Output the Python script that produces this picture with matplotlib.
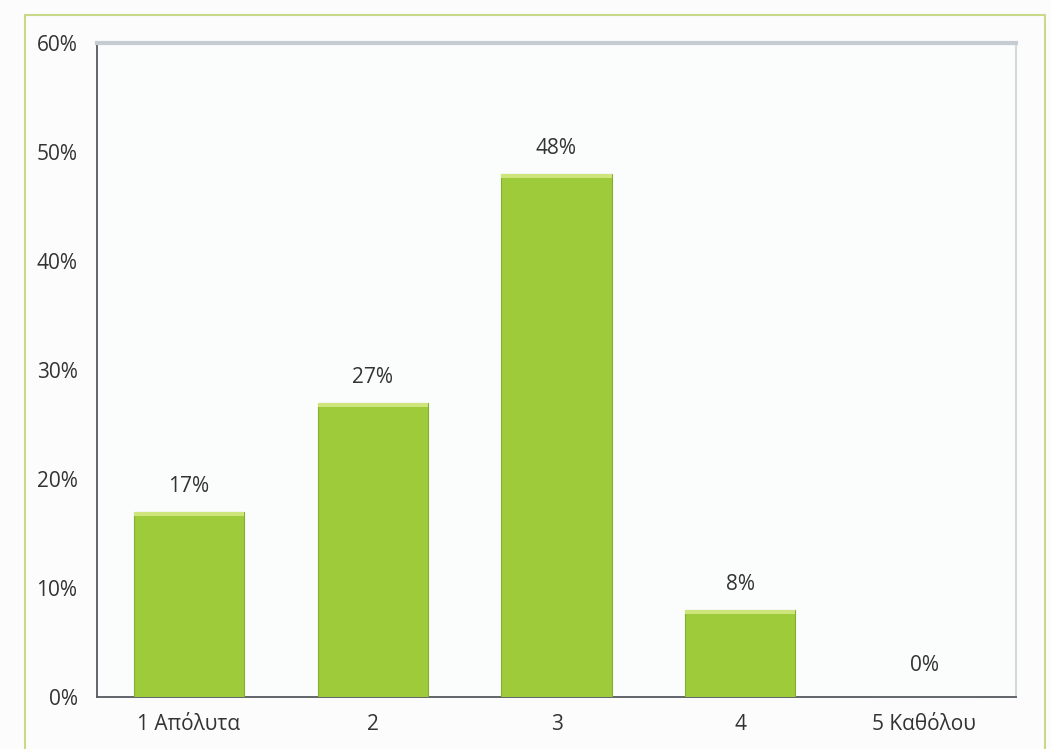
import matplotlib.pyplot as plt
import matplotlib as mpl
from matplotlib.patches import Rectangle
import numpy as np

mpl.rcParams['font.family'] = ['Open Sans', 'DejaVu Sans']

categories = ['1 Απόλυτα', '2', '3', '4', '5 Καθόλου']
values = [17, 27, 48, 8, 0]
yticks = [0, 10, 20, 30, 40, 50, 60]

fig = plt.figure(figsize=(10.51, 7.49), dpi=100)
fig.patch.set_facecolor('#fbfcfb')
# outer chart border
fig.patches.append(Rectangle((0.024, -0.01), 0.97, 0.99, transform=fig.transFigure,
                             fill=False, edgecolor='#c9d98a', linewidth=1.5))

ax = fig.add_axes([97 / 1051, 1 - 697 / 749, (1016 - 97) / 1051, (697 - 43) / 749])
ax.set_facecolor('#fbfcfc')
x = np.arange(len(categories))
bars = ax.bar(x, values, width=0.6, color='#9dcb3a', edgecolor='#86ad2e', linewidth=0.8, zorder=3)
# lighter top cap
for b, v in zip(bars, values):
    if v > 0:
        ax.add_patch(Rectangle((b.get_x(), v - 0.35), b.get_width(), 0.35,
                               facecolor='#cde57a', edgecolor='none', zorder=4))
    ax.text(b.get_x() + b.get_width() / 2, v + 2.3 if v > 0 else 2.9, f'{v}%',
            ha='center', va='center', fontsize=15, color='#333333', zorder=5)

ax.set_xlim(-0.5, len(categories) - 0.5)
ax.set_ylim(0, 60)
ax.set_xticks(x)
ax.set_xticklabels(categories, fontsize=15, color='#333333')
ax.set_yticks(yticks)
ax.set_yticklabels([f'{t}%' for t in yticks], fontsize=15, color='#333333')
ax.tick_params(length=0, pad=14)
ax.tick_params(axis='x', pad=12)

for s in ['left', 'bottom']:
    ax.spines[s].set_color('#555a5e')
    ax.spines[s].set_linewidth(1.3)
ax.spines['top'].set_color('#c5cdd2')
ax.spines['top'].set_linewidth(3)
ax.spines['right'].set_color('#d5dadc')
ax.spines['right'].set_linewidth(1.5)

plt.savefig('out.png', dpi=100)
